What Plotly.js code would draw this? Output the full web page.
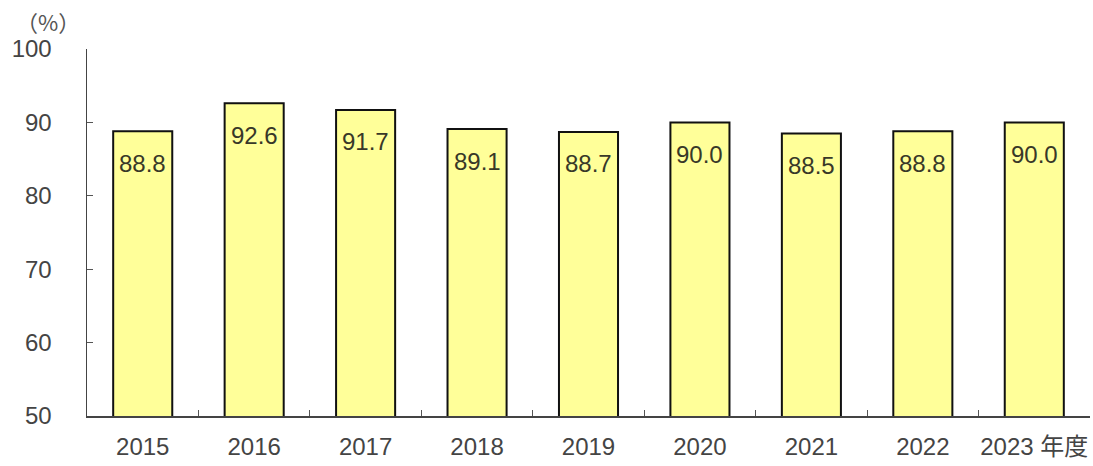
<!DOCTYPE html>
<html><head><meta charset="utf-8">
<script src="https://cdn.plot.ly/plotly-3.0.1.min.js"></script>
<style>html,body{margin:0;padding:0;background:#fff}#c{width:1093px;height:466px}</style>
</head><body><div id="c"></div>
<script>
const categories = ["2015","2016","2017","2018","2019","2020","2021","2022","2023 年度"];
const values = [88.8, 92.6, 91.7, 89.1, 88.7, 90.0, 88.5, 88.8, 90.0];
const yTicks = [50, 60, 70, 80, 90, 100];
const unitLabel = "（%）";

const fontFam = "'Liberation Sans', 'Noto Sans CJK JP', Arial, sans-serif";
const trace = {
  type: "bar", x: categories, y: values,
  marker: {color: "#FFFF99", line: {color: "#111", width: 2}},
  width: 0.53, hoverinfo: "skip"
};
const annotations = categories.map((c, i) => ({
  x: i, y: values[i], xref: "x", yref: "y", text: values[i].toFixed(1),
  showarrow: false, yanchor: "middle", yshift: -32,
  font: {family: fontFam, size: 24, color: "#383828"}
}));
annotations.push({
  xref: "paper", yref: "paper", x: -0.039, y: 1.076, xanchor: "center", yanchor: "middle",
  text: unitLabel, showarrow: false, font: {family: "'Noto Sans CJK JP', sans-serif", size: 22, color: "#555"}
});
const layout = {
  width: 1093, height: 466,
  margin: {l: 87, r: 3, t: 49, b: 50},
  paper_bgcolor: "#fff", plot_bgcolor: "#fff",
  showlegend: false,
  font: {family: fontFam, color: "#444", size: 24},
  xaxis: {
    type: "category", range: [-0.5, categories.length - 0.5], autorange: false,
    showgrid: false, zeroline: false,
    showline: true, linecolor: "#444", linewidth: 1.5,
    ticks: "inside", tickson: "boundaries", ticklen: 6, tickcolor: "#555",
    tickfont: {family: fontFam, size: 24, color: "#444"},
    tickangle: 0, ticklabelstandoff: 9,
    fixedrange: true
  },
  yaxis: {
    range: [50, 100], autorange: false, tickvals: yTicks, showgrid: false, zeroline: false,
    showline: true, linecolor: "#444", linewidth: 1.5,
    ticks: "inside", ticklen: 6, tickcolor: "#555",
    tickfont: {family: fontFam, size: 24, color: "#444"},
    ticklabelstandoff: 29,
    fixedrange: true
  },
  annotations: annotations
};
Plotly.newPlot("c", [trace], layout, {staticPlot: true});
</script></body></html>
